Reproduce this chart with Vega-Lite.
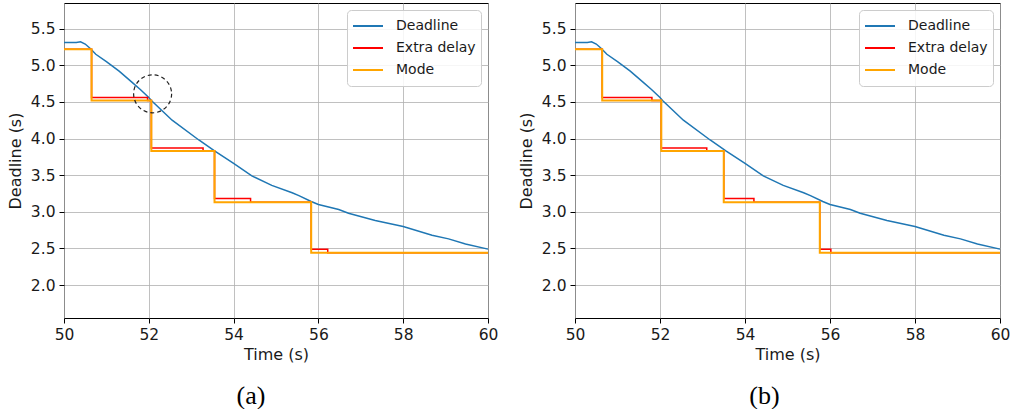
{
  "$schema": "https://vega.github.io/schema/vega-lite/v6.json",
  "background": "white",
  "padding": {"left": 6, "top": 2, "right": 4, "bottom": 0},
  "spacing": 18,
  "datasets": {
    "dead": [
      {"t": 50.0, "v": 5.31, "s": "Deadline"},
      {"t": 50.29, "v": 5.31, "s": "Deadline"},
      {"t": 50.39, "v": 5.32, "s": "Deadline"},
      {"t": 50.5, "v": 5.29, "s": "Deadline"},
      {"t": 50.62, "v": 5.23, "s": "Deadline"},
      {"t": 50.75, "v": 5.15, "s": "Deadline"},
      {"t": 51.0, "v": 5.05, "s": "Deadline"},
      {"t": 51.3, "v": 4.92, "s": "Deadline"},
      {"t": 51.6, "v": 4.77, "s": "Deadline"},
      {"t": 51.8, "v": 4.67, "s": "Deadline"},
      {"t": 52.0, "v": 4.56, "s": "Deadline"},
      {"t": 52.06, "v": 4.52, "s": "Deadline"},
      {"t": 52.55, "v": 4.25, "s": "Deadline"},
      {"t": 53.18, "v": 3.98, "s": "Deadline"},
      {"t": 53.55, "v": 3.83, "s": "Deadline"},
      {"t": 54.0, "v": 3.66, "s": "Deadline"},
      {"t": 54.43, "v": 3.49, "s": "Deadline"},
      {"t": 54.9, "v": 3.36, "s": "Deadline"},
      {"t": 55.38, "v": 3.26, "s": "Deadline"},
      {"t": 55.54, "v": 3.22, "s": "Deadline"},
      {"t": 55.83, "v": 3.14, "s": "Deadline"},
      {"t": 56.0, "v": 3.1, "s": "Deadline"},
      {"t": 56.48, "v": 3.03, "s": "Deadline"},
      {"t": 56.71, "v": 2.98, "s": "Deadline"},
      {"t": 57.34, "v": 2.88, "s": "Deadline"},
      {"t": 58.0, "v": 2.8, "s": "Deadline"},
      {"t": 58.68, "v": 2.68, "s": "Deadline"},
      {"t": 59.07, "v": 2.63, "s": "Deadline"},
      {"t": 59.47, "v": 2.56, "s": "Deadline"},
      {"t": 60.0, "v": 2.49, "s": "Deadline"}
    ],
    "extraA": [
      {"t": 50.0, "v": 5.22, "s": "Extra delay"},
      {"t": 50.65, "v": 4.56, "s": "Extra delay"},
      {"t": 51.97, "v": 4.52, "s": "Extra delay"},
      {"t": 52.06, "v": 3.87, "s": "Extra delay"},
      {"t": 53.28, "v": 3.83, "s": "Extra delay"},
      {"t": 53.55, "v": 3.18, "s": "Extra delay"},
      {"t": 54.4, "v": 3.13, "s": "Extra delay"},
      {"t": 55.83, "v": 2.49, "s": "Extra delay"},
      {"t": 56.22, "v": 2.44, "s": "Extra delay"},
      {"t": 60.0, "v": 2.44, "s": "Extra delay"}
    ],
    "modeA": [
      {"t": 50.0, "v": 5.22, "s": "Mode"},
      {"t": 50.65, "v": 4.52, "s": "Mode"},
      {"t": 52.06, "v": 3.83, "s": "Mode"},
      {"t": 53.55, "v": 3.13, "s": "Mode"},
      {"t": 55.83, "v": 2.44, "s": "Mode"},
      {"t": 60.0, "v": 2.44, "s": "Mode"}
    ],
    "extraB": [
      {"t": 50.0, "v": 5.22, "s": "Extra delay"},
      {"t": 50.64, "v": 4.56, "s": "Extra delay"},
      {"t": 51.81, "v": 4.52, "s": "Extra delay"},
      {"t": 52.03, "v": 3.87, "s": "Extra delay"},
      {"t": 53.1, "v": 3.83, "s": "Extra delay"},
      {"t": 53.5, "v": 3.18, "s": "Extra delay"},
      {"t": 54.21, "v": 3.13, "s": "Extra delay"},
      {"t": 55.76, "v": 2.49, "s": "Extra delay"},
      {"t": 56.02, "v": 2.44, "s": "Extra delay"},
      {"t": 60.0, "v": 2.44, "s": "Extra delay"}
    ],
    "modeB": [
      {"t": 50.0, "v": 5.22, "s": "Mode"},
      {"t": 50.64, "v": 4.52, "s": "Mode"},
      {"t": 52.03, "v": 3.83, "s": "Mode"},
      {"t": 53.5, "v": 3.13, "s": "Mode"},
      {"t": 55.76, "v": 2.44, "s": "Mode"},
      {"t": 60.0, "v": 2.44, "s": "Mode"}
    ],
    "circle": [
      {"t": 52.09, "v": 4.61}
    ]
  },
  "hconcat": [
    {
      "width": 424,
      "height": 315,
      "title": {"text": "(a)", "orient": "bottom", "dx": -25, "offset": 20},
      "encoding": {
        "x": {"field": "t", "type": "quantitative", "scale": {"domain": [50, 60], "nice": false, "zero": false}, "axis": {"title": "Time (s)", "values": [50, 52, 54, 56, 58, 60], "format": "d"}},
        "y": {"field": "v", "type": "quantitative", "scale": {"domain": [1.55, 5.85], "nice": false, "zero": false}, "axis": {"title": "Deadline (s)", "values": [2.0, 2.5, 3.0, 3.5, 4.0, 4.5, 5.0, 5.5], "format": ".1f"}}
      },
      "layer": [
        {"data": {"name": "dead"}, "mark": {"type": "line", "strokeWidth": 1.5}, "encoding": {"color": {"field": "s", "type": "nominal"}}},
        {"data": {"name": "extraA"}, "mark": {"type": "line", "interpolate": "step-after", "strokeWidth": 1.5}, "encoding": {"color": {"field": "s", "type": "nominal"}}},
        {"data": {"name": "modeA"}, "mark": {"type": "line", "interpolate": "step-after", "strokeWidth": 2}, "encoding": {"color": {"field": "s", "type": "nominal"}}},
        {"data": {"name": "circle"}, "mark": {"type": "point", "shape": "circle", "size": 1444, "filled": false, "stroke": "#222222", "strokeWidth": 1.2, "strokeDash": [4, 3], "opacity": 1}}
      ]
    },
    {
      "width": 425,
      "height": 315,
      "title": {"text": "(b)", "orient": "bottom", "dx": -23, "offset": 20},
      "encoding": {
        "x": {"field": "t", "type": "quantitative", "scale": {"domain": [50, 60], "nice": false, "zero": false}, "axis": {"title": "Time (s)", "values": [50, 52, 54, 56, 58, 60], "format": "d"}},
        "y": {"field": "v", "type": "quantitative", "scale": {"domain": [1.55, 5.85], "nice": false, "zero": false}, "axis": {"title": "Deadline (s)", "values": [2.0, 2.5, 3.0, 3.5, 4.0, 4.5, 5.0, 5.5], "format": ".1f"}}
      },
      "layer": [
        {"data": {"name": "dead"}, "mark": {"type": "line", "strokeWidth": 1.5}, "encoding": {"color": {"field": "s", "type": "nominal"}}},
        {"data": {"name": "extraB"}, "mark": {"type": "line", "interpolate": "step-after", "strokeWidth": 1.5}, "encoding": {"color": {"field": "s", "type": "nominal"}}},
        {"data": {"name": "modeB"}, "mark": {"type": "line", "interpolate": "step-after", "strokeWidth": 2}, "encoding": {"color": {"field": "s", "type": "nominal"}}}
      ]
    }
  ],
  "resolve": {"legend": {"color": "independent"}},
  "config": {
    "font": "DejaVu Sans",
    "view": {"stroke": "black", "strokeWidth": 1},
    "range": {"category": ["#1f77b4", "#ff0000", "#ffa500"]},
    "axis": {
      "domain": false,
      "grid": true,
      "gridColor": "#b0b0b0",
      "gridWidth": 0.8,
      "tickColor": "black",
      "tickSize": 5,
      "tickWidth": 1,
      "labelFont": "DejaVu Sans",
      "labelFontSize": 15.5,
      "labelColor": "#1a1a1a",
      "labelPadding": 4,
      "titleFont": "DejaVu Sans",
      "titleFontSize": 16,
      "titleFontWeight": "normal",
      "titleColor": "#1a1a1a"
    },
    "axisX": {"titlePadding": 4, "labelFlush": false},
    "axisY": {"titlePadding": 7},
    "legend": {
      "orient": "top-right",
      "offset": 7,
      "title": null,
      "fillColor": "rgba(255,255,255,0.85)",
      "strokeColor": "#cccccc",
      "cornerRadius": 4,
      "padding": 5,
      "symbolType": "stroke",
      "symbolSize": 900,
      "symbolStrokeWidth": 2,
      "labelFont": "DejaVu Sans",
      "labelFontSize": 14,
      "labelColor": "#1a1a1a",
      "labelOffset": 12,
      "clipHeight": 22,
      "rowPadding": 0
    },
    "title": {
      "font": "Liberation Serif",
      "fontSize": 26,
      "fontWeight": "normal",
      "color": "black",
      "anchor": "middle"
    }
  }
}
